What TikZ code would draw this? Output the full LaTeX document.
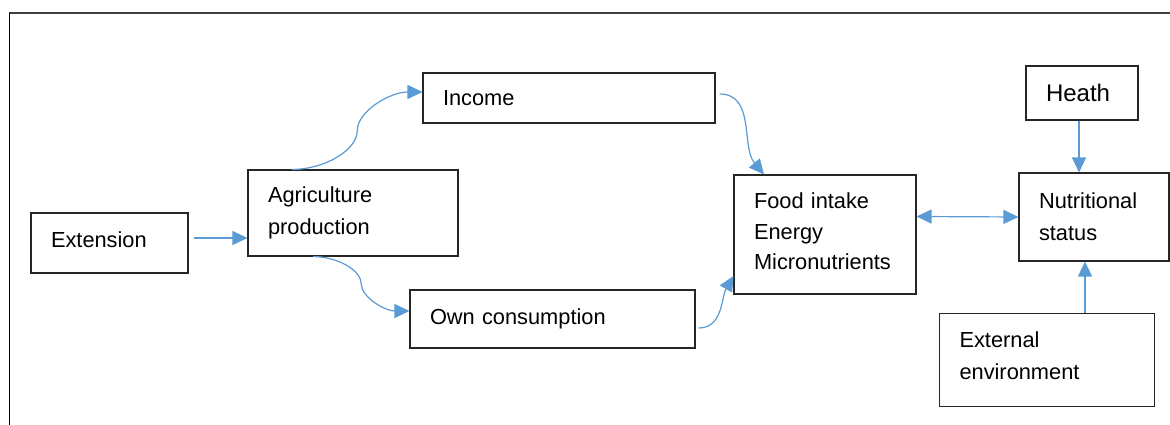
\documentclass[tikz,border=0pt]{standalone}
\usepackage{fontspec}
\setmainfont{Liberation Sans}
\usetikzlibrary{arrows.meta,calc}
\definecolor{Frame}{HTML}{404040}
\definecolor{BoxLine}{HTML}{262626}
\definecolor{Link}{HTML}{5B9BD5}
\newcommand{\lowpad}[1]{\rule[-#1]{0pt}{#1}}
\tikzset{
  sbend/.style={to path={
    let \p1=(\tikztostart), \p2=(\tikztotarget) in
    .. controls ({(3*\x1+\x2)/4},\y1) and ({(\x1+\x2)/2},{(3*\y1+\y2)/4})
    .. ({(\x1+\x2)/2},{(\y1+\y2)/2})
    .. controls ({(\x1+\x2)/2},{(\y1+3*\y2)/4}) and ({(\x1+3*\x2)/4},\y2)
    .. (\tikztotarget) \tikztonodes}},
}
\begin{document}
\begin{tikzpicture}[x=1pt,y=1pt,
  box/.style={draw=BoxLine,line width=1.1pt,inner xsep=20pt,inner ysep=0pt,align=left,
    font=\fontsize{21.8}{32}\selectfont},
  link/.style={Link,line width=1.2pt,-{Triangle[length=15pt,width=14pt]}}]
\useasboundingbox (0,0) rectangle (1170,425);
\draw[Frame,line width=1.5pt] (9,412) -- (1170,412);
\draw[black,line width=1pt] (9,412) -- (9,0);
\node[box,text width=117pt,minimum height=60pt] (ext) at (109.5,182) {Extension\lowpad{6pt}};
\node[box,text width=170pt,minimum height=86pt] (agri) at (353,212) {Agriculture\\production};
\node[box,text width=252pt,minimum height=50pt] (inc) at (569,327) {Income};
\node[box,text width=245pt,minimum height=58pt] (own) at (552.5,106) {Own consumption};
\node[box,text width=142pt,minimum height=119pt,font=\fontsize{21.8}{30.5}\selectfont] (food) at (825,190.5) {Food intake\\Energy\\Micronutrients\lowpad{6pt}};
\node[box,text width=72pt,minimum height=54pt,font=\fontsize{24}{28}\selectfont] (heath) at (1082,332) {Heath};
\node[box,text width=110pt,minimum height=88pt] (nut) at (1094,208) {Nutritional\\status};
\node[box,text width=175pt,minimum height=93pt] (extenv) at (1047,65) {External\\environment\lowpad{8pt}};
\draw[link] ([xshift=5pt,yshift=5pt]ext.east) -- ([yshift=-25pt]agri.west);
\draw[link] ([xshift=-61pt]agri.north) to[sbend] ([yshift=6pt]inc.west);
\draw[link] ([xshift=-40pt]agri.south) to[sbend] ([yshift=8pt]own.west);
\draw[link] ([xshift=4pt,yshift=4pt]inc.east) to[out=0,in=130] ([xshift=-61pt]food.north);
\draw[link] ([xshift=3pt,yshift=-9pt]own.east) to[out=0,in=-120] ([yshift=-41.5pt]food.west);
\draw[link,{Triangle[length=15pt,width=14pt]}-{Triangle[length=15pt,width=14pt]}] ([yshift=18pt]food.east) -- (nut.west);
\draw[link] ([xshift=-3pt]heath.south) -- ([xshift=-15pt]nut.north);
\draw[link] ([xshift=38pt]extenv.north) -- ([xshift=-9pt]nut.south);
\end{tikzpicture}
\end{document}
